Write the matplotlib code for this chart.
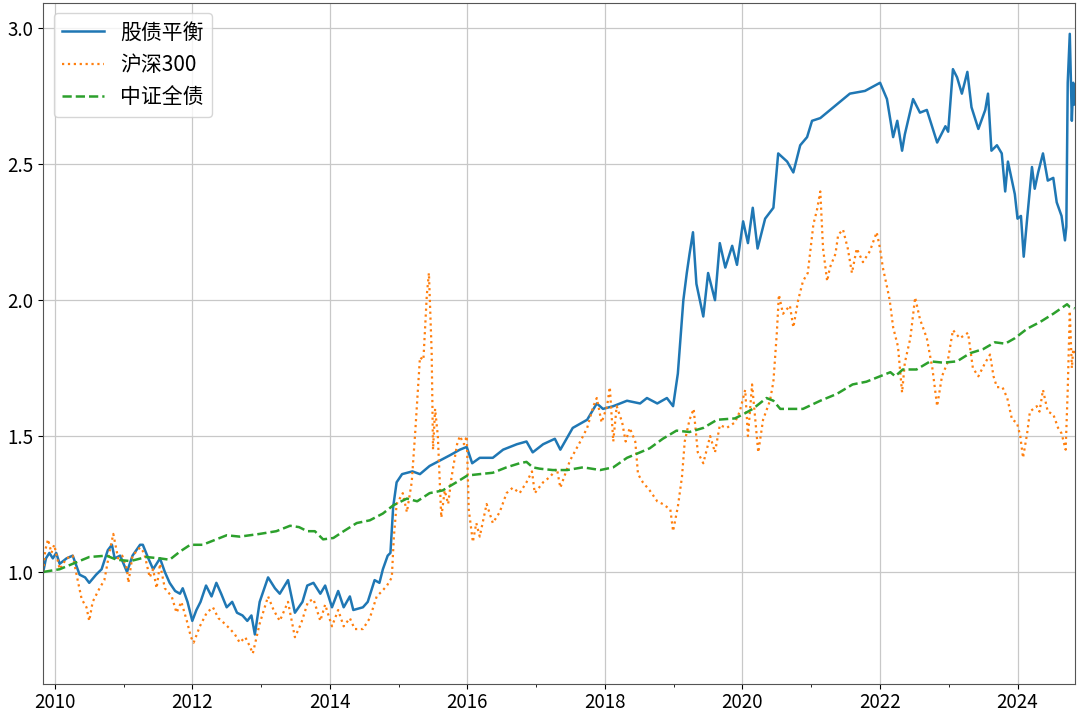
import numpy as np
import pandas as pd
import matplotlib
matplotlib.use('Agg')
import matplotlib.pyplot as plt
import matplotlib.dates as mdates

plt.rcParams['font.family'] = ['Noto Sans CJK SC', 'DejaVu Sans']
plt.rcParams['axes.unicode_minus'] = False

# 股债平衡 (decimal year, value)
bal_t = [2009.83, 2009.87, 2009.92, 2009.97, 2010.02, 2010.07, 2010.17, 2010.26, 2010.36, 2010.44,
         2010.50, 2010.60, 2010.68, 2010.77, 2010.83, 2010.87, 2010.95, 2011.05, 2011.13, 2011.24,
         2011.28, 2011.36, 2011.43, 2011.53, 2011.60, 2011.67, 2011.75, 2011.82, 2011.86, 2011.93,
         2012.00, 2012.06, 2012.12, 2012.20, 2012.28, 2012.35, 2012.42, 2012.50, 2012.58, 2012.65,
         2012.73, 2012.80, 2012.86, 2012.91, 2012.98, 2013.10, 2013.20, 2013.27, 2013.39, 2013.49,
         2013.60, 2013.67, 2013.76, 2013.86, 2013.93, 2014.03, 2014.12, 2014.20, 2014.29, 2014.34,
         2014.48, 2014.55, 2014.65, 2014.72, 2014.77, 2014.84, 2014.88, 2014.92, 2014.97, 2015.05,
         2015.20, 2015.31, 2015.45, 2015.60, 2015.75, 2015.89, 2015.99, 2016.07, 2016.18, 2016.37,
         2016.52, 2016.72, 2016.86, 2016.95, 2017.10, 2017.27, 2017.35, 2017.53, 2017.74, 2017.88,
         2017.97, 2018.12, 2018.32, 2018.51, 2018.61, 2018.76, 2018.90, 2018.99, 2019.06, 2019.14,
         2019.19, 2019.23, 2019.28, 2019.33, 2019.43, 2019.50, 2019.60, 2019.67, 2019.75, 2019.85,
         2019.92, 2020.01, 2020.08, 2020.15, 2020.22, 2020.33, 2020.45, 2020.52, 2020.65, 2020.74,
         2020.84, 2020.94, 2021.01, 2021.13, 2021.37, 2021.56, 2021.78, 2022.00, 2022.10, 2022.19,
         2022.25, 2022.32, 2022.36, 2022.48, 2022.58, 2022.68, 2022.83, 2022.95, 2022.99, 2023.06,
         2023.12, 2023.19, 2023.27, 2023.33, 2023.43, 2023.53, 2023.57, 2023.62, 2023.70, 2023.77,
         2023.82, 2023.86, 2023.96, 2024.00, 2024.05, 2024.09, 2024.14, 2024.21, 2024.25, 2024.30,
         2024.37, 2024.44, 2024.52, 2024.57, 2024.64, 2024.69, 2024.71, 2024.73, 2024.76, 2024.79,
         2024.81, 2024.83]
bal_v = [1.00, 1.05, 1.07, 1.05, 1.07, 1.03, 1.05, 1.06, 0.99, 0.98,
         0.96, 0.99, 1.01, 1.08, 1.10, 1.05, 1.06, 1.00, 1.06, 1.10,
         1.10, 1.05, 1.01, 1.05, 1.00, 0.96, 0.93, 0.92, 0.94, 0.89,
         0.82, 0.86, 0.89, 0.95, 0.91, 0.96, 0.92, 0.87, 0.89, 0.85,
         0.84, 0.82, 0.84, 0.77, 0.89, 0.98, 0.94, 0.92, 0.97, 0.85,
         0.89, 0.95, 0.96, 0.92, 0.95, 0.87, 0.93, 0.87, 0.91, 0.86,
         0.87, 0.89, 0.97, 0.96, 1.01, 1.06, 1.07, 1.24, 1.33, 1.36,
         1.37, 1.36, 1.39, 1.41, 1.43, 1.45, 1.46, 1.40, 1.42, 1.42,
         1.45, 1.47, 1.48, 1.44, 1.47, 1.49, 1.45, 1.53, 1.56, 1.62,
         1.60, 1.61, 1.63, 1.62, 1.64, 1.62, 1.64, 1.61, 1.73, 2.00,
         2.10, 2.17, 2.25, 2.06, 1.94, 2.10, 2.00, 2.21, 2.12, 2.20,
         2.13, 2.29, 2.21, 2.34, 2.19, 2.30, 2.34, 2.54, 2.51, 2.47,
         2.57, 2.60, 2.66, 2.67, 2.72, 2.76, 2.77, 2.80, 2.74, 2.60,
         2.66, 2.55, 2.61, 2.74, 2.69, 2.70, 2.58, 2.64, 2.62, 2.85,
         2.82, 2.76, 2.84, 2.71, 2.63, 2.70, 2.76, 2.55, 2.57, 2.54,
         2.40, 2.51, 2.39, 2.30, 2.31, 2.16, 2.30, 2.49, 2.41, 2.47,
         2.54, 2.44, 2.45, 2.36, 2.31, 2.22, 2.27, 2.80, 2.98, 2.66,
         2.80, 2.72]

# 沪深300
hs_t = [2009.83, 2009.86, 2009.90, 2009.95, 2009.99, 2010.07, 2010.17, 2010.26, 2010.34, 2010.39,
        2010.46, 2010.50, 2010.55, 2010.65, 2010.72, 2010.80, 2010.85, 2010.92, 2010.98, 2011.05,
        2011.07, 2011.13, 2011.24, 2011.30, 2011.38, 2011.43, 2011.48, 2011.53, 2011.60, 2011.70,
        2011.77, 2011.84, 2011.92, 2011.98, 2012.02, 2012.11, 2012.21, 2012.30, 2012.38, 2012.47,
        2012.55, 2012.62, 2012.69, 2012.77, 2012.83, 2012.88, 2012.98, 2013.10, 2013.18, 2013.27,
        2013.39, 2013.49, 2013.58, 2013.68, 2013.76, 2013.86, 2013.93, 2014.03, 2014.12, 2014.20,
        2014.29, 2014.36, 2014.48, 2014.58, 2014.68, 2014.76, 2014.83, 2014.90, 2014.93, 2014.97,
        2015.06, 2015.12, 2015.19, 2015.24, 2015.31, 2015.36, 2015.41, 2015.44, 2015.48, 2015.50,
        2015.53, 2015.57, 2015.62, 2015.67, 2015.72, 2015.77, 2015.85, 2015.89, 2015.95, 2015.99,
        2016.02, 2016.08, 2016.13, 2016.18, 2016.28, 2016.37, 2016.47, 2016.57, 2016.66, 2016.76,
        2016.86, 2016.94, 2016.98, 2017.10, 2017.20, 2017.30, 2017.35, 2017.49, 2017.64, 2017.74,
        2017.83, 2017.88, 2017.95, 2018.03, 2018.07, 2018.12, 2018.17, 2018.25, 2018.30, 2018.36,
        2018.44, 2018.48, 2018.55, 2018.65, 2018.76, 2018.84, 2018.95, 2018.99, 2019.06, 2019.12,
        2019.16, 2019.23, 2019.29, 2019.35, 2019.43, 2019.53, 2019.60, 2019.67, 2019.77, 2019.89,
        2019.96, 2020.04, 2020.08, 2020.14, 2020.18, 2020.23, 2020.30, 2020.40, 2020.45, 2020.50,
        2020.53, 2020.59, 2020.69, 2020.74, 2020.81, 2020.88, 2020.95, 2021.03, 2021.08, 2021.13,
        2021.17, 2021.23, 2021.27, 2021.35, 2021.39, 2021.46, 2021.53, 2021.59, 2021.66, 2021.75,
        2021.85, 2021.95, 2022.00, 2022.04, 2022.10, 2022.14, 2022.19, 2022.26, 2022.32, 2022.36,
        2022.44, 2022.51, 2022.58, 2022.68, 2022.76, 2022.83, 2022.90, 2022.98, 2023.06, 2023.16,
        2023.28, 2023.35, 2023.43, 2023.53, 2023.60, 2023.65, 2023.70, 2023.78, 2023.85, 2023.92,
        2023.99, 2024.04, 2024.08, 2024.14, 2024.18, 2024.28, 2024.32, 2024.37, 2024.44, 2024.52,
        2024.59, 2024.64, 2024.70, 2024.73, 2024.76, 2024.79, 2024.81, 2024.83]
hs_v = [1.00, 1.08, 1.12, 1.07, 1.10, 1.01, 1.05, 1.06, 0.96, 0.90,
        0.87, 0.82, 0.89, 0.94, 0.97, 1.08, 1.14, 1.05, 1.06, 1.01,
        0.96, 1.06, 1.09, 1.07, 0.98, 1.01, 0.94, 1.03, 0.94, 0.91,
        0.85, 0.89, 0.82, 0.76, 0.74, 0.80, 0.85, 0.87, 0.83, 0.81,
        0.79, 0.77, 0.74, 0.76, 0.73, 0.70, 0.81, 0.91, 0.86, 0.82,
        0.89, 0.76, 0.81, 0.89, 0.90, 0.82, 0.88, 0.80, 0.86, 0.80,
        0.83, 0.79, 0.79, 0.83, 0.91, 0.93, 0.95, 0.98, 1.13, 1.25,
        1.29, 1.22, 1.33, 1.51, 1.79, 1.78, 2.02, 2.10, 1.81, 1.45,
        1.60, 1.50, 1.20, 1.30, 1.25, 1.35, 1.47, 1.50, 1.47, 1.50,
        1.23, 1.11, 1.18, 1.13, 1.25, 1.18, 1.22, 1.29, 1.31, 1.29,
        1.33, 1.37, 1.29, 1.33, 1.35, 1.38, 1.31, 1.41, 1.48, 1.53,
        1.61, 1.64, 1.55, 1.61, 1.68, 1.48, 1.61, 1.55, 1.48, 1.53,
        1.48, 1.36, 1.33, 1.30, 1.26, 1.25, 1.23, 1.15, 1.24, 1.35,
        1.48, 1.56, 1.60, 1.44, 1.40, 1.50, 1.44, 1.54, 1.53, 1.55,
        1.59, 1.67, 1.50, 1.69, 1.58, 1.44, 1.56, 1.63, 1.70, 1.88,
        2.02, 1.95, 1.98, 1.90, 2.00, 2.07, 2.10, 2.28, 2.33, 2.40,
        2.19, 2.07, 2.12, 2.17, 2.24, 2.26, 2.19, 2.10, 2.19, 2.14,
        2.18, 2.25, 2.19, 2.12, 2.05, 2.00, 1.90, 1.83, 1.66, 1.77,
        1.86, 2.01, 1.93, 1.86, 1.75, 1.61, 1.72, 1.77, 1.89, 1.86,
        1.88, 1.75, 1.72, 1.77, 1.80, 1.72, 1.68, 1.68, 1.64, 1.56,
        1.55, 1.50, 1.42, 1.51, 1.59, 1.61, 1.59, 1.67, 1.59, 1.58,
        1.53, 1.51, 1.45, 1.67, 1.96, 1.75, 1.82, 1.80]

# 中证全债
bond_t = [2009.83, 2010.07, 2010.26, 2010.50, 2010.75, 2010.90, 2011.10, 2011.33, 2011.53, 2011.67,
          2011.82, 2011.97, 2012.15, 2012.35, 2012.50, 2012.69, 2012.98, 2013.22, 2013.42, 2013.55,
          2013.67, 2013.78, 2013.90, 2014.05, 2014.20, 2014.39, 2014.58, 2014.77, 2014.92, 2015.12,
          2015.27, 2015.45, 2015.64, 2015.84, 2016.00, 2016.18, 2016.37, 2016.57, 2016.76, 2016.86,
          2016.95, 2017.05, 2017.24, 2017.45, 2017.68, 2017.93, 2018.12, 2018.32, 2018.51, 2018.65,
          2018.84, 2019.04, 2019.23, 2019.43, 2019.63, 2019.89, 2020.01, 2020.15, 2020.35, 2020.45,
          2020.55, 2020.69, 2020.88, 2021.13, 2021.37, 2021.60, 2021.80, 2022.00, 2022.15, 2022.22,
          2022.33, 2022.53, 2022.73, 2022.92, 2023.12, 2023.31, 2023.50, 2023.67, 2023.82, 2023.96,
          2024.14, 2024.33, 2024.52, 2024.72, 2024.76, 2024.83]
bond_v = [1.000, 1.010, 1.030, 1.055, 1.060, 1.045, 1.040, 1.055, 1.050, 1.045,
          1.075, 1.100, 1.100, 1.120, 1.135, 1.130, 1.140, 1.150, 1.170, 1.165,
          1.150, 1.150, 1.120, 1.125, 1.150, 1.180, 1.190, 1.215, 1.245, 1.270,
          1.260, 1.290, 1.300, 1.330, 1.355, 1.360, 1.365, 1.385, 1.400, 1.405,
          1.385, 1.380, 1.375, 1.375, 1.385, 1.375, 1.385, 1.420, 1.440, 1.455,
          1.490, 1.520, 1.515, 1.530, 1.560, 1.565, 1.580, 1.600, 1.640, 1.630,
          1.600, 1.600, 1.600, 1.630, 1.655, 1.690, 1.700, 1.720, 1.735, 1.720,
          1.745, 1.745, 1.775, 1.770, 1.775, 1.805, 1.820, 1.845, 1.840, 1.860,
          1.895, 1.920, 1.950, 1.985, 1.975, 1.970]


def to_dates(years):
    years = np.asarray(years)
    base = pd.to_datetime([f'{int(y)}-01-01' for y in np.floor(years)])
    return base + pd.to_timedelta((years - np.floor(years)) * 365.25, unit='D')


fig = plt.figure(figsize=(10.8, 7.13), dpi=100)
ax = fig.add_axes([0.040, 0.040, 0.955, 0.956])

ax.plot(to_dates(bal_t), bal_v, color='#1f77b4', lw=1.8, label='股债平衡')
ax.plot(to_dates(hs_t), hs_v, color='#ff7f0e', lw=1.6, ls=':', label='沪深300')
ax.plot(to_dates(bond_t), bond_v, color='#2ca02c', lw=1.8, ls='--', label='中证全债')

ax.set_xlim(to_dates([bal_t[0]])[0], to_dates([bal_t[-1]])[0])
ax.xaxis.set_major_locator(mdates.YearLocator(2))
ax.xaxis.set_minor_locator(mdates.YearLocator(1))
ax.xaxis.set_major_formatter(mdates.DateFormatter('%Y'))
ax.set_yticks([1.0, 1.5, 2.0, 2.5, 3.0])
ax.yaxis.set_major_formatter(matplotlib.ticker.FormatStrFormatter('%.1f'))
ax.tick_params(labelsize=13.5)
ax.tick_params(axis='x', pad=2)
ax.grid(True, color='#c8c8c8', lw=0.9)
ax.set_axisbelow(True)
for sp in ax.spines.values():
    sp.set_color('#555555')

ax.legend(loc='upper left', fontsize=15, framealpha=0.8)

fig.savefig('out.png', dpi=100)
